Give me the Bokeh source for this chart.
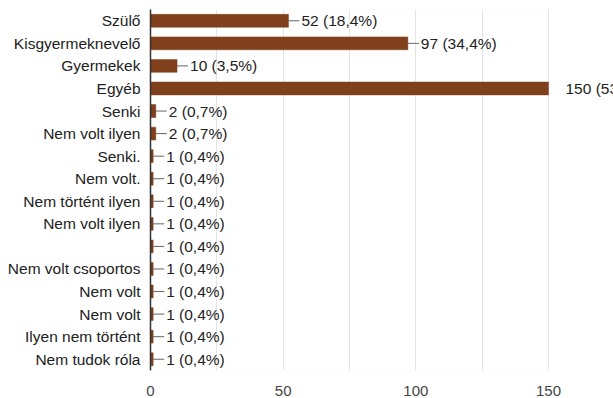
from bokeh.plotting import figure
from bokeh.models import ColumnDataSource, FixedTicker, Range1d, BoxAnnotation
from bokeh.core.properties import value
from bokeh.embed import file_html
from bokeh.resources import INLINE

# ---- data ----
categories = ["Szülő", "Kisgyermeknevelő", "Gyermekek", "Egyéb", "Senki",
              "Nem volt ilyen", "Senki.", "Nem volt.", "Nem történt ilyen",
              "Nem volt ilyen", "", "Nem volt csoportos", "Nem volt",
              "Nem volt", "Ilyen nem történt", "Nem tudok róla"]
counts = [52, 97, 10, 150, 2, 2, 1, 1, 1, 1, 1, 1, 1, 1, 1, 1]
percents = ["18,4", "34,4", "3,5", "53,2", "0,7", "0,7", "0,4", "0,4", "0,4",
            "0,4", "0,4", "0,4", "0,4", "0,4", "0,4", "0,4"]
x_ticks = [0, 50, 100, 150]
x_minor = [25, 75, 125]

FONT = "Liberation Sans"
BAR = "#80401c"
W, H = 613, 398
LEFT, RIGHT, TOP, BOTTOM = 150, 0, 9, 24
AXIS_MAX = 150
AXIS_PX = 398
px_per_unit = AXIS_PX / AXIS_MAX
x_end = AXIS_MAX + (W - LEFT - RIGHT - AXIS_PX) / px_per_unit
LEADER_PX = 11

idx = list(range(len(categories)))
labels = [f"{c} ({p}%)" for c, p in zip(counts, percents)]
show_leader = [c < AXIS_MAX for c in counts]
lead_x0 = [c for c, s in zip(counts, show_leader) if s]
lead_x1 = [c + LEADER_PX / px_per_unit for c, s in zip(counts, show_leader) if s]
lead_y = [i for i, s in zip(idx, show_leader) if s]
offsets = [13 if s else 17 for s in show_leader]

src = ColumnDataSource(dict(y=idx, x=counts, label=labels, off=offsets))
lead = ColumnDataSource(dict(x0=lead_x0, x1=lead_x1, y=lead_y))

p = figure(width=W, height=H, output_backend="svg", toolbar_location=None,
           x_range=Range1d(0, x_end), y_range=Range1d(len(categories) - 0.5, -0.5),
           min_border_left=LEFT, min_border_right=RIGHT,
           min_border_top=TOP, min_border_bottom=BOTTOM)
p.outline_line_color = None

# frame box from 0 to max
p.add_layout(BoxAnnotation(left=0, right=AXIS_MAX, fill_alpha=0,
                           line_color="#e4e4e4", line_width=1, level="underlay"))

p.hbar(y="y", right="x", left=0, height=0.57, source=src,
       fill_color=BAR, line_color=BAR, line_width=0.5)
p.segment(x0="x0", x1="x1", y0="y", y1="y", source=lead,
          line_color="#666666", line_width=1)
p.text(x="x", y="y", text="label", x_offset="off", source=src,
       text_baseline="middle", text_align="left",
       text_font=value(FONT), text_font_size="15.5px", text_color="#222222")

# x axis
xa = p.xaxis[0]
xa.ticker = FixedTicker(ticks=x_ticks, minor_ticks=x_minor)
xa.axis_line_color = None
xa.major_tick_line_color = None
xa.minor_tick_line_color = None
xa.major_label_standoff = 9
xa.major_label_text_font = FONT
xa.major_label_text_font_size = "15px"
xa.major_label_text_color = "#444444"

# y axis
ya = p.yaxis[0]
ya.ticker = FixedTicker(ticks=idx)
ya.major_label_overrides = {i: c for i, c in zip(idx, categories)}
ya.axis_line_color = "#333333"
ya.axis_line_width = 1.5
ya.major_tick_line_color = None
ya.minor_tick_line_color = None
ya.major_label_standoff = 4
ya.major_label_text_font = FONT
ya.major_label_text_font_size = "15.5px"
ya.major_label_text_color = "#222222"

p.ygrid.grid_line_color = None
p.xgrid.grid_line_color = "#e4e4e4"
p.xgrid.minor_grid_line_color = "#e4e4e4"
p.xgrid.bounds = (0, AXIS_MAX)

open("out.html", "w").write(file_html(p, INLINE))
